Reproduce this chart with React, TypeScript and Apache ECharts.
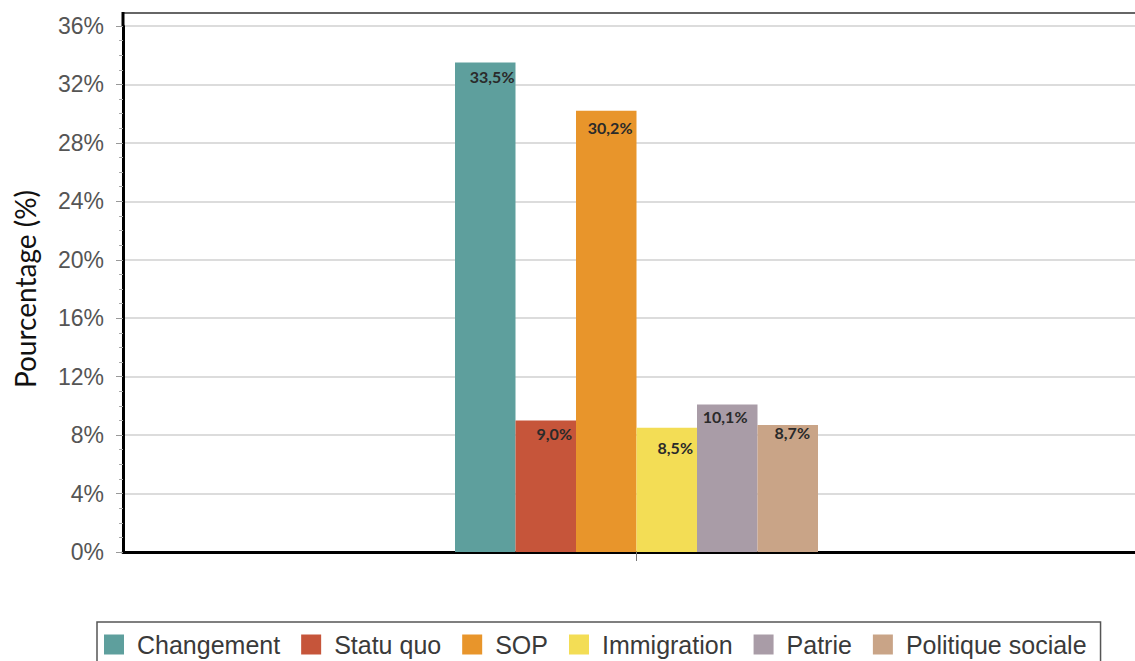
import React, { useEffect, useRef } from "react";
import * as echarts from "echarts";

const categories = [""];
const seriesNames = ["Changement", "Statu quo", "SOP", "Immigration", "Patrie", "Politique sociale"];
const seriesValues = [33.5, 9.0, 30.2, 8.5, 10.1, 8.7];
const seriesColors = ["#5e9f9d", "#c6553a", "#e8952b", "#f3dd55", "#a99ca7", "#c9a487"];
const labelOffsets = [[-1, 6], [-4, 5], [-4, 9], [-4, 12], [-10, 4], [-8, 0]];
const yTicks = [0, 4, 8, 12, 16, 20, 24, 28, 32, 36];

export default function App() {
  const ref = useRef<HTMLDivElement>(null);
  useEffect(() => {
    if (!ref.current) return;
    const chart = echarts.init(ref.current, undefined, { renderer: "svg" });
    const option = {
      animation: false,
      backgroundColor: "#ffffff",
      grid: { left: 123, right: 0, top: 26, bottom: 109 },
      graphic: [
        {
          type: "line",
          shape: { x1: 123, y1: 13, x2: 1150, y2: 13 },
          style: { stroke: "#666", lineWidth: 2 },
        },
        {
          type: "line",
          shape: { x1: 123, y1: 12, x2: 123, y2: 26 },
          style: { stroke: "#000", lineWidth: 3 },
        },
      ],
      legend: {
        data: seriesNames,
        left: 97,
        top: 622,
        orient: "horizontal",
        itemWidth: 20,
        itemHeight: 20,
        itemGap: 21,
        icon: "rect",
        padding: [10, 14, 8, 7],
        borderColor: "#555",
        borderWidth: 1.5,
        textStyle: {
          fontFamily: "Liberation Sans",
          fontSize: 25,
          color: "#3a3a3a",
          padding: [0, 0, 0, 8],
        },
      },
      xAxis: {
        type: "category",
        data: categories,
        axisLine: { lineStyle: { color: "#000", width: 3 } },
        axisTick: { show: true, alignWithLabel: true, length: 9, lineStyle: { color: "#777", width: 1 } },
        axisLabel: { show: false },
      },
      yAxis: {
        type: "value",
        min: yTicks[0],
        max: yTicks[yTicks.length - 1],
        interval: 4,
        name: "Pourcentage (%)",
        nameLocation: "middle",
        nameGap: 84,
        nameTextStyle: { fontFamily: "Lato", fontSize: 28, color: "#111" },
        axisLine: { show: true, lineStyle: { color: "#000", width: 3 } },
        axisTick: { show: true, length: 7, lineStyle: { color: "#999" } },
        minorTick: { show: true, splitNumber: 4, length: 4, lineStyle: { color: "#aaa" } },
        axisLabel: {
          formatter: "{value}%",
          fontFamily: "Liberation Sans",
          fontSize: 23,
          color: "#555",
          margin: 19,
          padding: [6, 0, 0, 0],
        },
        splitLine: { show: true, lineStyle: { color: "#dcdcdc", width: 2 } },
      },
      series: seriesNames.map((name, i) => ({
        name,
        type: "bar",
        data: [seriesValues[i]],
        barWidth: 60.5,
        barGap: "0%",
        itemStyle: { color: seriesColors[i] },
        label: {
          show: true,
          position: "insideTopRight",
          distance: 0,
          offset: labelOffsets[i],
          formatter: (p: any) => p.value.toFixed(1).replace(".", ",") + "%",
          fontFamily: "Lato",
          fontWeight: "bold",
          fontSize: 16,
          color: "#2a2a2a",
        },
      })),
    };
    chart.setOption(option);
    return () => chart.dispose();
  }, []);
  return (
    <div
      ref={ref}
      style={{ position: "fixed", left: 0, top: 0, width: 1150, height: 661 }}
    />
  );
}
